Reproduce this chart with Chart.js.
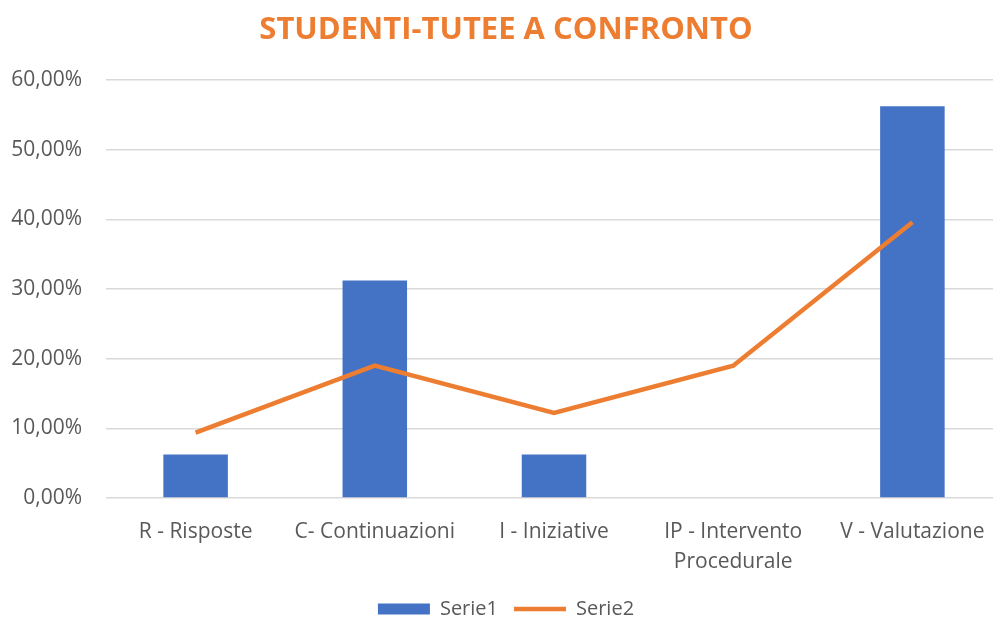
<!DOCTYPE html>
<html>
<head>
<meta charset="utf-8">
<script src="https://cdn.jsdelivr.net/npm/chart.js@4/dist/chart.umd.min.js"></script>
<style>
    html, body { margin: 0; padding: 0; background: #fff; overflow: hidden; }
    #wrap { width: 1022px; height: 629px; }
</style>
</head>
<body>
<div id="wrap"><canvas id="chart"></canvas></div>
<script>
const categories = ['R - Risposte', 'C- Continuazioni', 'I - Iniziative', ['IP - Intervento', 'Procedurale'], 'V - Valutazione'];
const serie1 = [6.25, 31.25, 6.25, 0, 56.25];
const serie2 = [9.4, 19.0, 12.2, 19.0, 39.6];
const yTicks = [0, 10, 20, 30, 40, 50, 60];

const grey = '#595959';

new Chart(document.getElementById('chart'), {
    type: 'bar',
    data: {
        labels: categories,
        datasets: [{
            label: 'Serie1',
            data: serie1,
            backgroundColor: '#4472c4',
            borderWidth: 0,
            pointStyle: 'rect',
            barPercentage: 0.36,
            categoryPercentage: 1,
            order: 2
        }, {
            type: 'line',
            label: 'Serie2',
            data: serie2,
            borderColor: '#ed7d31',
            backgroundColor: '#ed7d31',
            borderWidth: 4.5,
            pointRadius: 0,
            pointStyle: 'line',
            tension: 0,
            order: 1
        }]
    },
    options: {
        responsive: true,
        maintainAspectRatio: false,
        animation: false,
        layout: {padding: {left: 10, right: 20, top: 12, bottom: 0}},
        plugins: {
            title: {
                display: true,
                text: 'STUDENTI-TUTEE A CONFRONTO',
                color: '#ed7d31',
                font: {family: 'Open Sans', size: 31, weight: 'bold'},
                padding: {top: 0, bottom: 31}
            },
            legend: {
                position: 'bottom',
                labels: {
                    usePointStyle: true,
                    pointStyleWidth: 52,
                    boxHeight: 11,
                    color: grey,
                    font: {family: 'Open Sans', size: 20},
                    padding: 16,
                    sort: (a, b) => a.datasetIndex - b.datasetIndex
                }
            },
            tooltip: {enabled: false}
        },
        scales: {
            x: {
                grid: {display: false},
                border: {display: false},
                afterFit: s => { s.height = 85; },
                ticks: {
                    color: grey,
                    font: {family: 'Open Sans', size: 21, lineHeight: 1.43},
                    maxRotation: 0,
                    autoSkip: false,
                    padding: 11
                }
            },
            y: {
                min: 0,
                max: 60,
                afterBuildTicks: axis => { axis.ticks = yTicks.map(v => ({value: v})); },
                afterFit: s => { s.width = 96; },
                grid: {color: '#d9d9d9', lineWidth: 1.5, drawTicks: false},
                border: {display: false},
                ticks: {
                    color: grey,
                    font: {family: 'Open Sans', size: 21},
                    padding: 24,
                    callback: v => v.toFixed(2).replace('.', ',') + '%'
                }
            }
        }
    }
});
</script>
</body>
</html>
